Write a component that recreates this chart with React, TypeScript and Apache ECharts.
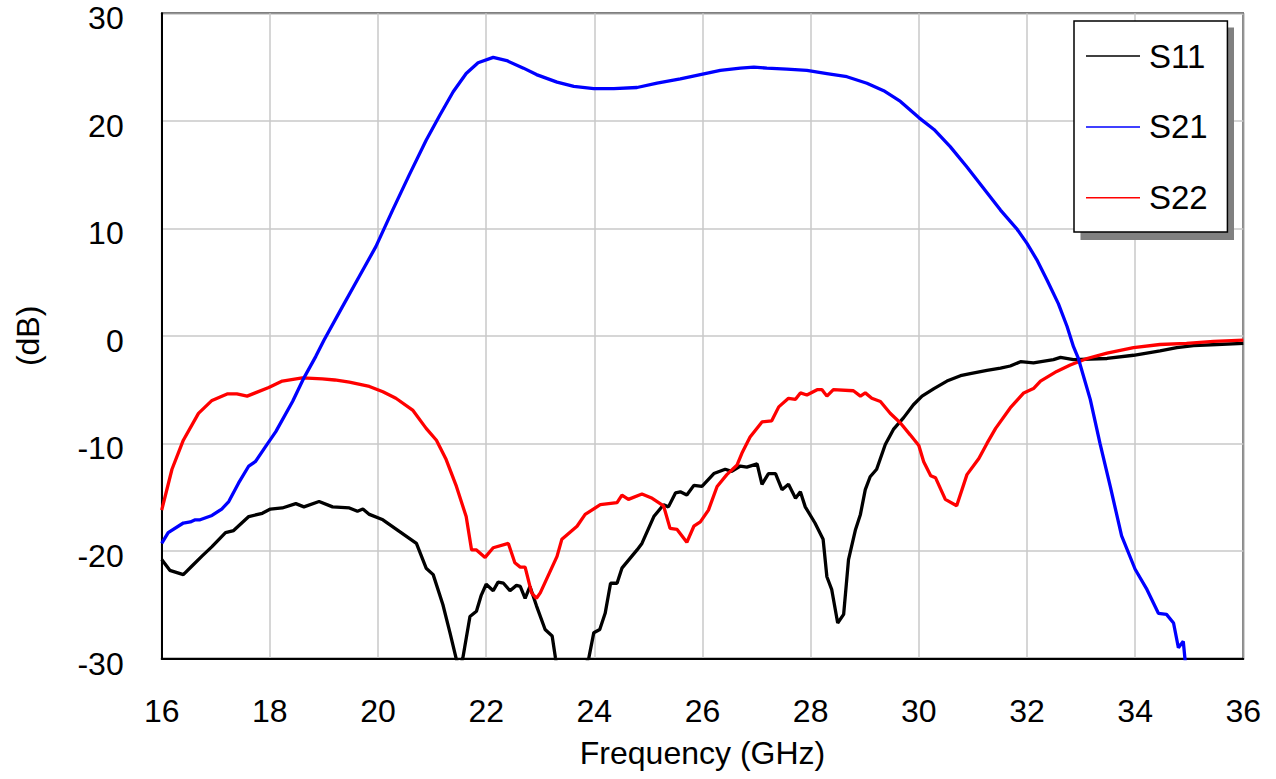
import React, { useEffect, useRef } from "react";
import * as echarts from "echarts";

const seriesNames = ["S11", "S21", "S22"];
const xTicks = [16, 18, 20, 22, 24, 26, 28, 30, 32, 34, 36];
const yTicks = [-30, -20, -10, 0, 10, 20, 30];

const s11Freq = [16.0, 16.15, 16.4, 16.56, 16.74, 16.93, 17.18, 17.33, 17.61, 17.86, 18.01, 18.23, 18.48, 18.63, 18.91, 19.16, 19.47, 19.62, 19.72, 19.84, 20.09, 20.4, 20.71, 20.89, 21.02, 21.2, 21.33, 21.45, 21.51, 21.57, 21.7, 21.82, 21.91, 22.0, 22.13, 22.22, 22.32, 22.44, 22.56, 22.63, 22.72, 22.81, 22.93, 23.09, 23.22, 23.28, 23.35, 23.6, 23.9, 23.99, 24.1, 24.2, 24.3, 24.42, 24.51, 24.79, 24.88, 25.1, 25.28, 25.37, 25.5, 25.59, 25.71, 25.84, 25.99, 26.21, 26.42, 26.54, 26.7, 26.82, 27.01, 27.1, 27.22, 27.35, 27.47, 27.59, 27.72, 27.81, 27.9, 28.08, 28.23, 28.3, 28.39, 28.5, 28.61, 28.7, 28.83, 28.92, 29.01, 29.1, 29.22, 29.38, 29.53, 29.72, 29.9, 30.06, 30.28, 30.52, 30.77, 30.95, 31.26, 31.51, 31.69, 31.88, 32.12, 32.49, 32.62, 32.86, 33.48, 33.97, 34.46, 34.77, 35.08, 35.51, 36.0];
const s11Val = [-20.8, -21.8, -22.2, -21.4, -20.5, -19.6, -18.3, -18.1, -16.8, -16.5, -16.1, -16.0, -15.6, -15.9, -15.4, -15.9, -16.0, -16.3, -16.1, -16.6, -17.1, -18.2, -19.3, -21.6, -22.2, -25.0, -27.6, -30.1, -31.0, -29.9, -26.1, -25.6, -24.1, -23.1, -23.7, -22.9, -23.0, -23.7, -23.2, -23.3, -24.4, -23.3, -25.1, -27.3, -27.9, -29.9, -32.0, -33.0, -29.9, -27.6, -27.3, -25.8, -23.0, -23.0, -21.6, -19.9, -19.3, -16.8, -15.7, -15.9, -14.6, -14.5, -14.8, -13.9, -14.0, -12.8, -12.4, -12.6, -12.1, -12.2, -11.9, -13.8, -12.8, -12.8, -14.3, -13.8, -15.1, -14.5, -15.9, -17.4, -18.9, -22.4, -23.6, -26.7, -25.9, -20.8, -18.0, -16.6, -14.3, -13.1, -12.4, -10.1, -8.7, -7.6, -6.4, -5.6, -4.9, -4.2, -3.7, -3.5, -3.2, -3.0, -2.8, -2.4, -2.5, -2.2, -2.0, -2.2, -2.1, -1.8, -1.4, -1.1, -0.9, -0.8, -0.7];

const s21Freq = [16.0, 16.12, 16.4, 16.53, 16.62, 16.71, 16.93, 17.11, 17.24, 17.42, 17.61, 17.73, 17.92, 18.11, 18.42, 18.63, 18.85, 19.0, 19.34, 19.65, 19.96, 20.27, 20.58, 20.89, 21.14, 21.39, 21.63, 21.85, 22.13, 22.38, 22.69, 22.93, 23.31, 23.62, 23.99, 24.36, 24.79, 25.16, 25.59, 25.96, 26.33, 26.7, 26.95, 27.19, 27.56, 27.93, 28.3, 28.67, 29.04, 29.35, 29.66, 30.0, 30.28, 30.58, 30.89, 31.2, 31.51, 31.82, 32.0, 32.18, 32.37, 32.58, 32.74, 32.86, 32.95, 33.17, 33.35, 33.54, 33.75, 34.0, 34.22, 34.43, 34.58, 34.71, 34.8, 34.89, 34.95];
const s21Val = [-19.3, -18.3, -17.4, -17.3, -17.1, -17.1, -16.7, -16.1, -15.4, -13.7, -12.1, -11.7, -10.3, -8.9, -6.1, -3.9, -1.9, -0.4, 2.7, 5.5, 8.3, 11.7, 15.0, 18.2, 20.5, 22.7, 24.4, 25.4, 25.9, 25.6, 24.9, 24.3, 23.6, 23.2, 23.0, 23.0, 23.1, 23.5, 23.9, 24.3, 24.7, 24.9, 25.0, 24.9, 24.8, 24.7, 24.4, 24.1, 23.5, 22.8, 21.8, 20.3, 19.2, 17.6, 15.7, 13.7, 11.7, 9.9, 8.6, 7.1, 5.2, 3.0, 0.9, -1.0, -2.1, -5.9, -10.0, -14.0, -18.6, -21.7, -23.6, -25.8, -25.9, -26.7, -29.0, -28.4, -31.5];

const s22Freq = [16.0, 16.19, 16.4, 16.68, 16.93, 17.21, 17.39, 17.58, 17.73, 17.98, 18.23, 18.6, 18.97, 19.2, 19.47, 19.84, 20.09, 20.33, 20.64, 20.89, 21.08, 21.26, 21.45, 21.63, 21.73, 21.82, 21.98, 22.13, 22.41, 22.53, 22.63, 22.72, 22.84, 22.93, 23.0, 23.31, 23.4, 23.68, 23.83, 24.11, 24.42, 24.51, 24.63, 24.88, 25.07, 25.28, 25.4, 25.53, 25.71, 25.84, 25.96, 26.11, 26.27, 26.45, 26.64, 26.73, 26.88, 27.1, 27.28, 27.41, 27.59, 27.72, 27.81, 27.93, 28.12, 28.21, 28.3, 28.42, 28.79, 28.92, 29.01, 29.13, 29.29, 29.47, 29.66, 29.84, 30.0, 30.09, 30.22, 30.31, 30.49, 30.7, 30.89, 31.11, 31.26, 31.42, 31.69, 31.94, 32.12, 32.25, 32.55, 32.8, 33.11, 33.48, 33.97, 34.46, 34.95, 35.45, 36.0];
const s22Val = [-16.2, -12.4, -9.7, -7.2, -6.0, -5.4, -5.4, -5.6, -5.3, -4.8, -4.2, -3.9, -4.0, -4.1, -4.3, -4.7, -5.2, -5.8, -6.9, -8.6, -9.7, -11.5, -14.0, -16.8, -19.9, -19.9, -20.6, -19.7, -19.3, -21.1, -21.5, -21.5, -23.9, -24.4, -23.9, -20.5, -18.9, -17.7, -16.6, -15.7, -15.5, -14.8, -15.2, -14.7, -15.1, -15.8, -17.9, -18.0, -19.2, -17.7, -17.3, -16.2, -14.0, -12.9, -12.0, -10.9, -9.4, -8.0, -7.9, -6.6, -5.8, -5.9, -5.3, -5.5, -5.0, -5.0, -5.6, -5.0, -5.1, -5.6, -5.3, -5.8, -6.1, -7.2, -8.1, -9.2, -10.2, -11.7, -13.0, -13.2, -15.2, -15.8, -12.9, -11.4, -10.0, -8.6, -6.7, -5.3, -4.9, -4.2, -3.3, -2.7, -2.1, -1.6, -1.1, -0.8, -0.7, -0.5, -0.4];

const zip = (xs: number[], ys: number[]) => xs.map((x, i) => [x, ys[i]]);

const FONT = "'Liberation Sans', Arial, sans-serif";

export default function App() {
  const ref = useRef<HTMLDivElement>(null);
  useEffect(() => {
    if (!ref.current) return;
    const chart = echarts.init(ref.current, undefined, { renderer: "svg" });
    const lineSeries = (name: string, color: string, data: number[][]) => ({
      name,
      type: "line",
      data,
      showSymbol: false,
      symbol: "none",
      clip: true,
      lineStyle: { color, width: 3.3 },
      itemStyle: { color },
    });
    chart.setOption({
      animation: false,
      backgroundColor: "#ffffff",
      grid: {
        left: 161.7,
        right: 32.7,
        top: 13.3,
        bottom: 120.5,
        show: true,
        borderColor: "#000",
        borderWidth: 1.5,
        containLabel: false,
      },
      xAxis: {
        type: "value",
        min: xTicks[0],
        max: xTicks[xTicks.length - 1],
        interval: 2,
        name: "Frequency (GHz)",
        nameLocation: "middle",
        nameGap: 78,
        nameTextStyle: { fontSize: 32, fontFamily: FONT, color: "#000", lineHeight: 32 },
        axisLine: { show: true, onZero: false, lineStyle: { color: "#000", width: 2 } },
        axisTick: { show: false },
        axisLabel: { fontSize: 32, fontFamily: FONT, color: "#000", margin: 36, lineHeight: 32 },
        splitLine: { show: true, lineStyle: { color: "#c8c8c8", width: 1.5 } },
      },
      yAxis: {
        type: "value",
        min: yTicks[0],
        max: yTicks[yTicks.length - 1],
        interval: 10,
        name: "(dB)",
        nameLocation: "middle",
        nameGap: 118,
        nameRotate: 90,
        nameTextStyle: { fontSize: 32, fontFamily: FONT, color: "#000", lineHeight: 32 },
        axisLine: { show: true, onZero: false, lineStyle: { color: "#000", width: 2 } },
        axisTick: { show: false },
        axisLabel: { fontSize: 32, fontFamily: FONT, color: "#000", margin: 38, verticalAlign: "top", lineHeight: 10 },
        splitLine: { show: true, lineStyle: { color: "#c8c8c8", width: 1.5 } },
      },
      legend: {
        data: seriesNames,
        orient: "vertical",
        left: 1074,
        top: 21,
        icon: "rect",
        itemWidth: 54,
        itemHeight: 1.5,
        itemGap: 37.8,
        padding: [18.6, 19.7, 17.8, 12],
        backgroundColor: "#fff",
        borderColor: "#000",
        borderWidth: 1.5,
        borderRadius: 0,
        z: 10,
        textStyle: { fontSize: 33, fontFamily: FONT, color: "#000", lineHeight: 30, padding: [0, 0, 0, 4] },
      },
      graphic: [
        {
          type: "rect",
          z: 9,
          shape: { x: 1080.5, y: 27.5, width: 153.5, height: 212.5 },
          style: { fill: "#808080" },
          silent: true,
        },
      ],
      series: [
        lineSeries("S11", "#000000", zip(s11Freq, s11Val)),
        lineSeries("S22", "#ff0000", zip(s22Freq, s22Val)),
        lineSeries("S21", "#0000ff", zip(s21Freq, s21Val)),
      ],
    });
    return () => chart.dispose();
  }, []);
  return (
    <div
      ref={ref}
      style={{ position: "fixed", left: 0, top: 0, width: 1276, height: 779, background: "#fff" }}
    />
  );
}
